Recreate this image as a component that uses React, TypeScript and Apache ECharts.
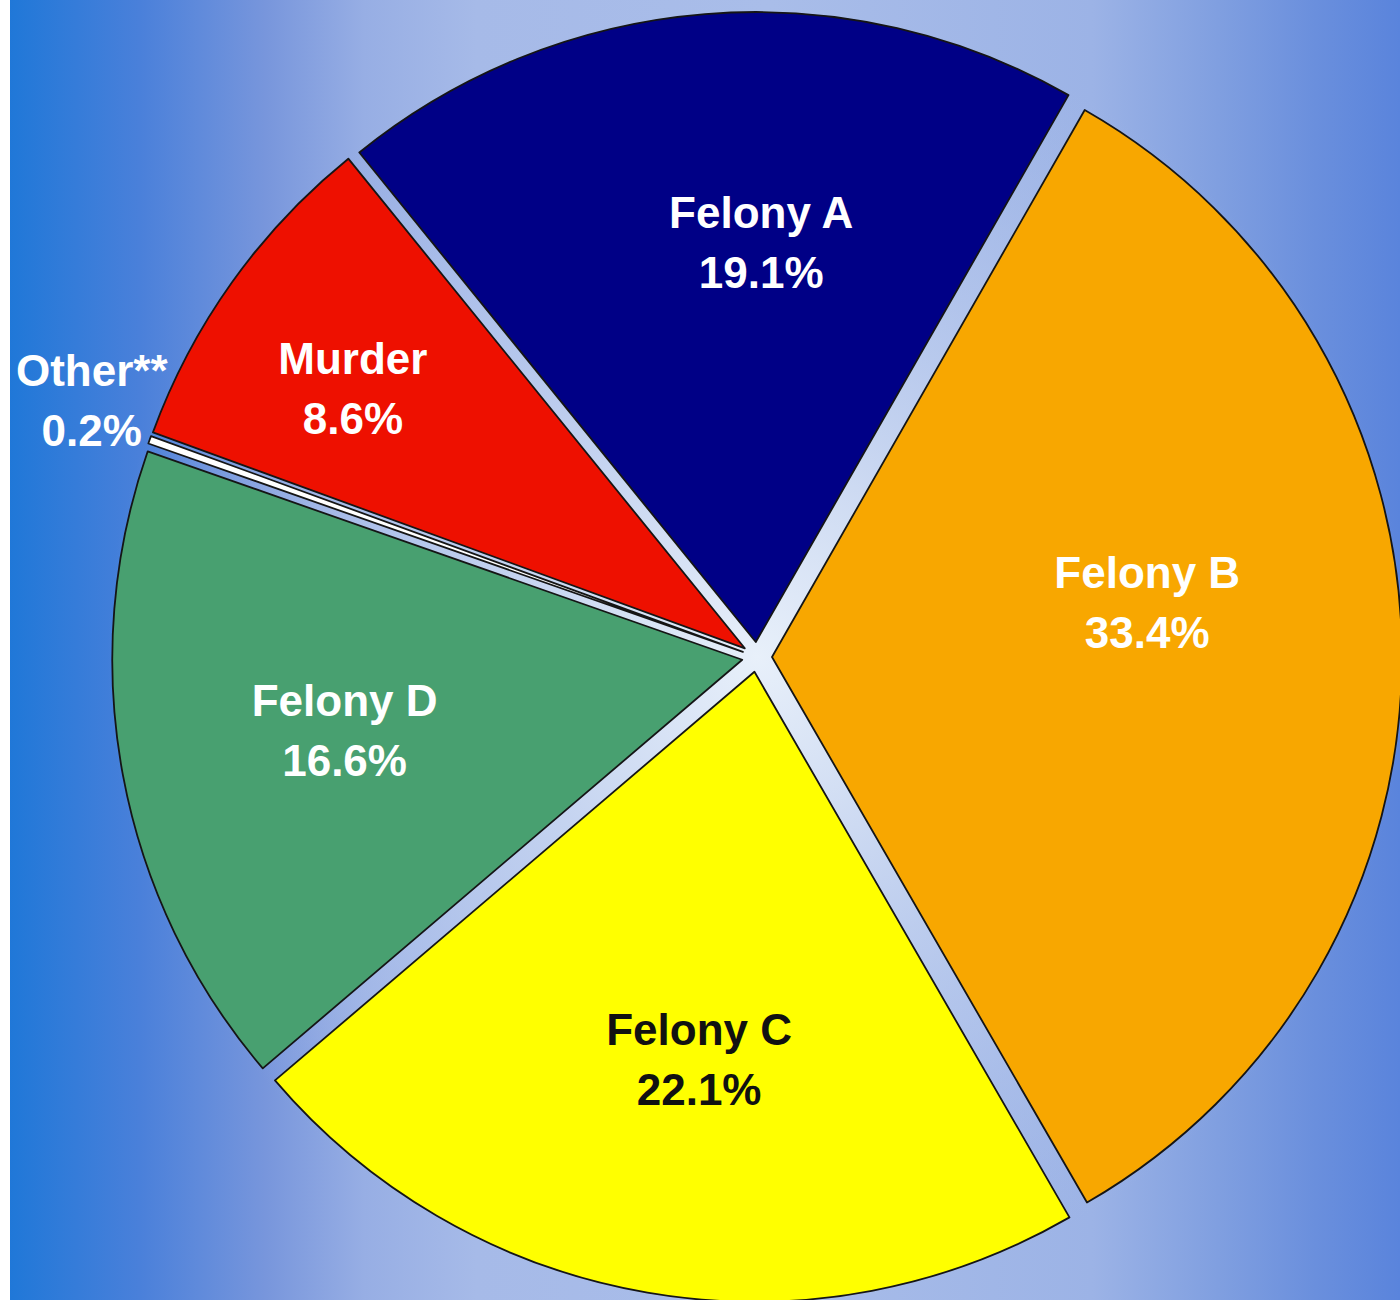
import React, { useEffect, useRef } from 'react';
import * as echarts from 'echarts';

// ---- data ----
const categories = ['Felony A', 'Felony B', 'Felony C', 'Felony D', 'Other**', 'Murder'];
const shares = [19.1, 33.4, 22.1, 16.6, 0.2, 8.6];

// ---- styling ----
const sliceColors = ['#000086', '#f8a700', '#ffff00', '#48a070', '#ffffff', '#ee1000'];
const labelColors = ['#ffffff', '#ffffff', '#111111', '#ffffff', '#ffffff', '#ffffff'];
// label distance from pie centre (px) and angular shift from slice bisector (deg)
const labelDist = [415, 394, 407, 419, 713, 485];
const labelShift = [-5.2, 7.8, 1.6, -0.4, -1.4, 1.95];

const W = 1400;
const H = 1300;
const CX = 757;
const CY = 657;
const R = 630;
const OFFSET = 15;
const START = 129;

export default function App() {
  const ref = useRef<HTMLDivElement>(null);

  useEffect(() => {
    document.body.style.margin = '0';
    if (!ref.current) return;
    const chart = echarts.init(ref.current, undefined, { renderer: 'svg' });
    const total = shares.reduce((a, b) => a + b, 0);
    const cum: number[] = [];
    let acc = 0;
    shares.forEach((v) => {
      cum.push(acc);
      acc += v;
    });

    const labelFont = {
      fontFamily: '"Liberation Sans", Arial, sans-serif',
      fontWeight: 'bold',
      fontSize: 44,
      lineHeight: 60,
    };

    const option: any = {
      animation: false,
      backgroundColor: {
        type: 'linear',
        x: 0,
        y: 0,
        x2: 1,
        y2: 0,
        colorStops: [
          { offset: 0, color: '#1e76d6' },
          { offset: 0.01, color: '#2178d8' },
          { offset: 0.1, color: '#4a80da' },
          { offset: 0.19, color: '#7896dc' },
          { offset: 0.26, color: '#97aee4' },
          { offset: 0.34, color: '#a6bae8' },
          { offset: 0.55, color: '#a9bde9' },
          { offset: 0.78, color: '#9cb3e6' },
          { offset: 0.87, color: '#809fe0' },
          { offset: 0.94, color: '#6a8fdd' },
          { offset: 1, color: '#5a84dc' },
        ],
      },
      graphic: [
        {
          type: 'rect',
          z: 0,
          shape: { x: 0, y: 0, width: 10, height: H },
          style: { fill: '#ffffff' },
          silent: true,
        },
        {
          type: 'circle',
          z: 0,
          shape: { cx: CX, cy: CY, r: R + 20 },
          style: {
            fill: {
              type: 'radial',
              x: 0.5,
              y: 0.5,
              r: 0.5,
              colorStops: [
                { offset: 0, color: 'rgba(232,240,250,1)' },
                { offset: 0.3, color: 'rgba(205,218,242,1)' },
                { offset: 0.7, color: 'rgba(180,198,236,0.6)' },
                { offset: 1, color: 'rgba(168,188,232,0)' },
              ],
            },
          },
          silent: true,
        },
      ],
      series: [
        {
          type: 'pie',
          z: 2,
          center: [CX, CY],
          radius: [0, R],
          startAngle: START,
          clockwise: true,
          selectedMode: 'multiple',
          selectedOffset: OFFSET,
          avoidLabelOverlap: false,
          emphasis: { disabled: true, scale: false },
          itemStyle: { borderColor: '#151515', borderWidth: 1.8 },
          select: { itemStyle: { borderColor: '#151515', borderWidth: 1.8 } },
          label: { show: false },
          labelLine: { show: false },
          data: categories.map((name, i) => ({
            name,
            value: shares[i],
            selected: true,
            itemStyle: { color: sliceColors[i] },
          })),
        },
        {
          // transparent twin of the pie that only carries the labels
          type: 'pie',
          z: 4,
          silent: true,
          center: [CX, CY],
          radius: [0, R],
          startAngle: START,
          clockwise: true,
          selectedMode: false,
          avoidLabelOverlap: false,
          emphasis: { disabled: true, scale: false },
          itemStyle: { color: 'rgba(0,0,0,0)', borderWidth: 0 },
          label: {
            show: true,
            position: 'inside',
            ...labelFont,
            align: 'center',
            verticalAlign: 'middle',
            formatter: (p: any) => `${p.name}\n${Number(p.value).toFixed(1)}%`,
          },
          labelLine: { show: false },
          labelLayout: (params: any) => {
            const i = params.dataIndex;
            const mid = START - ((cum[i] + shares[i] / 2) / total) * 360 + labelShift[i];
            const rad = (mid * Math.PI) / 180;
            return {
              x: CX + labelDist[i] * Math.cos(rad),
              y: CY - labelDist[i] * Math.sin(rad),
            };
          },
          data: categories.map((name, i) => ({
            name,
            value: shares[i],
            label: { color: labelColors[i] },
          })),
        },
      ],
    };
    chart.setOption(option);
    return () => chart.dispose();
  }, []);

  return <div ref={ref} style={{ width: W, height: H }} />;
}
